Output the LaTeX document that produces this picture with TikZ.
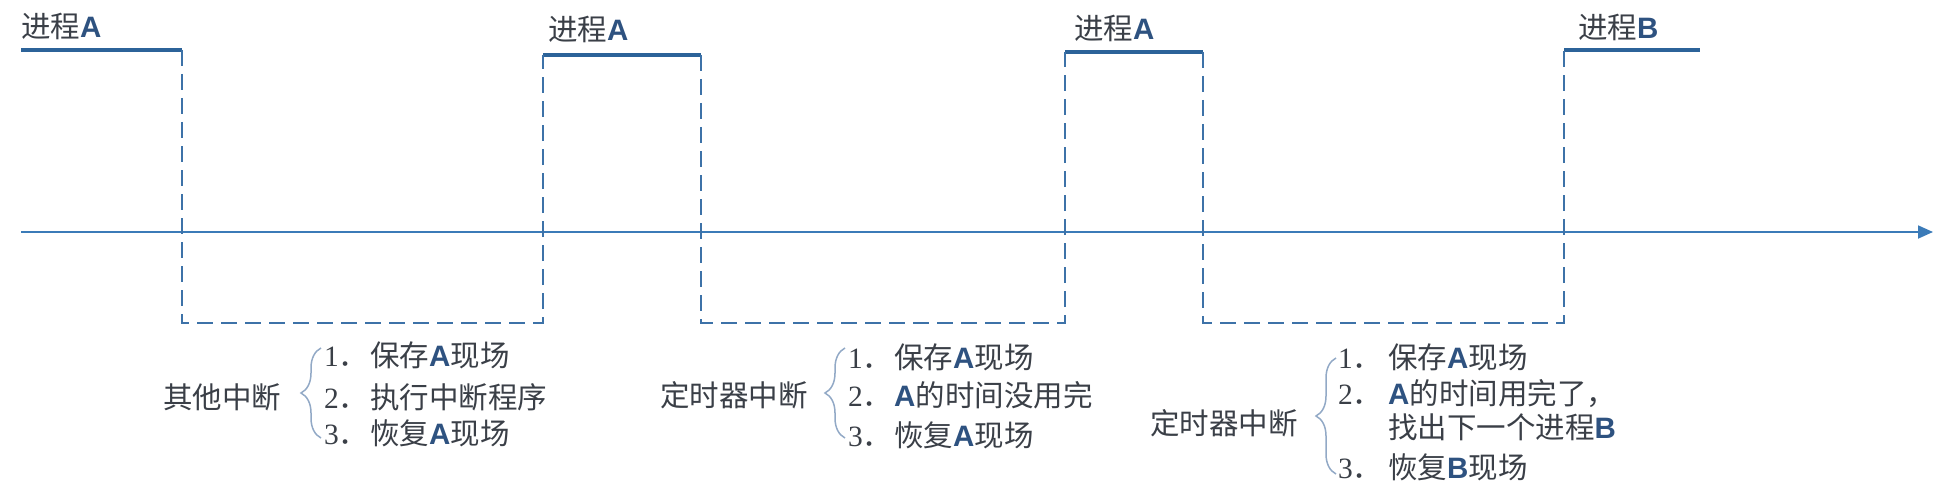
\documentclass[tikz,border=0pt]{standalone}
\usepackage{fontspec}
\newfontfamily\cjk{Noto Sans CJK SC}
\newfontfamily\latb{Liberation Sans}
\newfontfamily\serifn{Liberation Serif}
\usetikzlibrary{arrows.meta,decorations.pathreplacing}
\definecolor{wave}{HTML}{2C6399}
\definecolor{axisc}{HTML}{3B7BB8}
\definecolor{dashc}{HTML}{3D72A8}
\definecolor{txt}{HTML}{3A3F47}
\definecolor{letter}{HTML}{2E5280}
\definecolor{bracec}{HTML}{92A9C6}
\newcommand{\lat}[1]{{\latb\bfseries\color{letter}#1}}
\newcommand{\nmb}[2][46pt]{\makebox[#1][l]{\serifn #2{\cjk ．}}}
\begin{document}
\begin{tikzpicture}[x=1pt,y=-1pt,
  lbl/.style={anchor=base west,inner sep=0pt,text=txt,font=\cjk\fontsize{29.5}{34}\selectfont},
  solidwave/.style={draw=wave,line width=3.6pt},
  dashwave/.style={draw=dashc,line width=1.6pt,dash pattern=on 16pt off 8pt},
  axisline/.style={draw=axisc,line width=1.8pt,-{Triangle[length=15pt,width=13pt]}},
  bracel/.style={draw=bracec,line width=1.5pt,decorate,decoration={brace,amplitude=20pt}}]
\useasboundingbox (0,0) rectangle (1953,500);
% waveform corners
\coordinate (t1s) at (21,50);  \coordinate (t1e) at (182,50);
\coordinate (b1s) at (182,323); \coordinate (b1e) at (543,323);
\coordinate (t2s) at (543,55); \coordinate (t2e) at (701,55);
\coordinate (b2s) at (701,323); \coordinate (b2e) at (1065,323);
\coordinate (t3s) at (1065,52); \coordinate (t3e) at (1203,52);
\coordinate (b3s) at (1203,323); \coordinate (b3e) at (1564,323);
\coordinate (t4s) at (1564,50); \coordinate (t4e) at (1700,50);
\coordinate (a0) at (21,232); \coordinate (a1) at (1933,232);
% axis
\draw[axisline] (a0) -- (a1);
% solid tops
\draw[solidwave] (t1s) -- (t1e);
\draw[solidwave] (t2s) -- (t2e);
\draw[solidwave] (t3s) -- (t3e);
\draw[solidwave] (t4s) -- (t4e);
% dashed parts
\draw[dashwave] (t1e) -- (b1s) -- (b1e) -- (t2s);
\draw[dashwave] (t2e) -- (b2s) -- (b2e) -- (t3s);
\draw[dashwave] (t3e) -- (b3s) -- (b3e) -- (t4s);
% process labels
\node[lbl] (pa1) at (21,38) {进程\lat{A}};
\node[lbl] (pa2) at (548,41) {进程\lat{A}};
\node[lbl] (pa3) at (1074,40) {进程\lat{A}};
\node[lbl] (pb) at (1578,39) {进程\lat{B}};
% group 1
\node[lbl] (g1) at (163,408) {其他中断};
\coordinate (g1b) at (321,438); \coordinate (g1t) at (321,348);
\draw[bracel] (g1b) -- (g1t);
\node[lbl] (g1i1) at (324,366) {\nmb{1}保存\lat{A}现场};
\node[lbl] (g1i2) at (324,408) {\nmb{2}执行中断程序};
\node[lbl] (g1i3) at (324,444) {\nmb{3}恢复\lat{A}现场};
% group 2
\node[lbl] (g2) at (660,406) {定时器中断};
\coordinate (g2b) at (845,438); \coordinate (g2t) at (845,348);
\draw[bracel] (g2b) -- (g2t);
\node[lbl] (g2i1) at (848,368) {\nmb{1}保存\lat{A}现场};
\node[lbl] (g2i2) at (848,406) {\nmb{2}\lat{A}的时间没用完};
\node[lbl] (g2i3) at (848,446) {\nmb{3}恢复\lat{A}现场};
% group 3
\node[lbl] (g3) at (1150,434) {定时器中断};
\coordinate (g3b) at (1336,474); \coordinate (g3t) at (1336,358);
\draw[bracel] (g3b) -- (g3t);
\node[lbl] (g3i1) at (1338,368) {\nmb[50pt]{1}保存\lat{A}现场};
\node[lbl] (g3i2) at (1338,404) {\nmb[50pt]{2}\lat{A}的时间用完了，};
\node[lbl] (g3i3) at (1388,438) {找出下一个进程\lat{B}};
\node[lbl] (g3i4) at (1338,478) {\nmb[50pt]{3}恢复\lat{B}现场};
\end{tikzpicture}
\end{document}
